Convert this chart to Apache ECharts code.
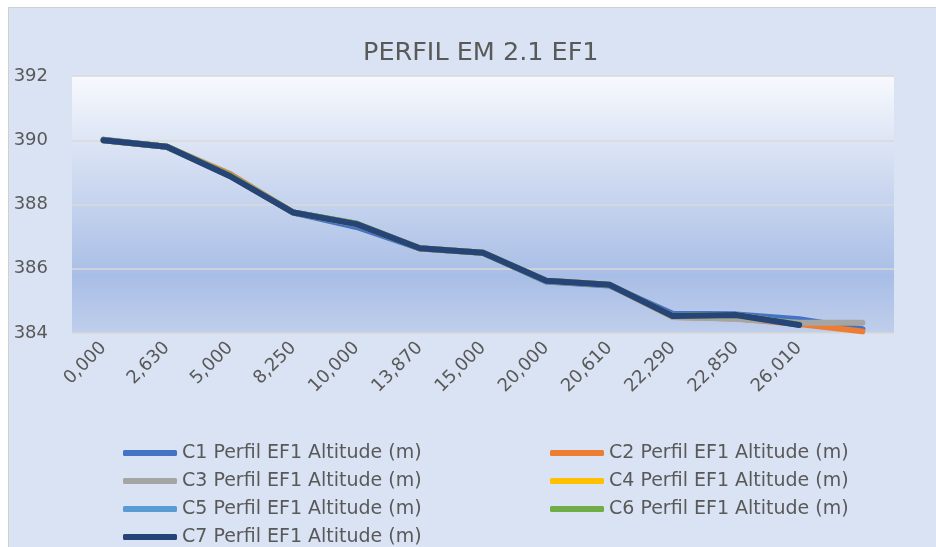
<!DOCTYPE html>
<html>
<head>
<meta charset="utf-8">
<script src="https://cdn.jsdelivr.net/npm/echarts@6/dist/echarts.min.js"></script>
<style>
html,body{margin:0;padding:0;background:#fff;}
#chart{width:936px;height:547px;}
</style>
</head>
<body>
<div id="chart"></div>
<script>
const categories = ['0,000','2,630','5,000','8,250','10,000','13,870','15,000','20,000','20,610','22,290','22,850','26,010',''];
const seriesNames = ['C1 Perfil EF1 Altitude (m)','C2 Perfil EF1 Altitude (m)','C3 Perfil EF1 Altitude (m)','C4 Perfil EF1 Altitude (m)','C5 Perfil EF1 Altitude (m)','C6 Perfil EF1 Altitude (m)','C7 Perfil EF1 Altitude (m)'];
const c1 = [390.02, 389.8, 388.9, 387.75, 387.3, 386.63, 386.5, 385.6, 385.48, 384.6, 384.58, 384.43, 384.12];
const c2 = [390.0, 389.8, 388.95, 387.75, 387.4, 386.64, 386.5, 385.63, 385.5, 384.5, 384.45, 384.28, 384.05];
const c3 = [390.0, 389.8, 388.9, 387.75, 387.38, 386.64, 386.5, 385.62, 385.5, 384.5, 384.44, 384.32, 384.32];
const c4 = [390.0, 389.8, 388.9, 387.75, 387.4, 386.64, 386.5, 385.63, 385.5, 384.53, 384.56, 384.26, null];
const c5 = [390.0, 389.8, 388.9, 387.75, 387.4, 386.64, 386.5, 385.63, 385.5, 384.53, 384.56, 384.26, null];
const c6 = [390.0, 389.8, 388.9, 387.75, 387.4, 386.64, 386.5, 385.63, 385.5, 384.53, 384.56, 384.26, null];
const c7 = [390.0, 389.8, 388.88, 387.75, 387.39, 386.64, 386.5, 385.63, 385.5, 384.53, 384.56, 384.25, null];
const yTicks = {min: 384, max: 392, interval: 2};
const colors = ['#4472C4','#ED7D31','#A5A5A5','#FFC000','#5B9BD5','#70AD47','#264478'];

const allData = [c1,c2,c3,c4,c5,c6,c7];
const FONT = 'DejaVu Sans';
const chart = echarts.init(document.getElementById('chart'), null, {renderer:'canvas'});
const legendStyle = {
  orient: 'vertical', top: 443, height: 110, padding: 0, itemWidth: 54, itemHeight: 6, itemGap: 8, icon: 'roundRect',
  textStyle: {fontFamily: FONT, fontSize: 19, lineHeight: 20, color: '#595959'}
};
chart.setOption({
  animation: false,
  backgroundColor: '#FFFFFF',
  color: colors,
  graphic: [{
    type: 'rect', z: -10, silent: true,
    shape: {x: 8.5, y: 7.5, width: 940, height: 560},
    style: {fill: '#DAE3F3', stroke: '#D0D0D0', lineWidth: 1}
  }],
  title: {
    text: 'PERFIL EM 2.1 EF1', left: 358, top: 35,
    textStyle: {fontFamily: FONT, fontSize: 25.5, fontWeight: 'normal', color: '#595959'}
  },
  legend: [
    Object.assign({left: 123, data: [seriesNames[0], seriesNames[2], seriesNames[4], seriesNames[6]]}, legendStyle),
    Object.assign({left: 550, data: [seriesNames[1], seriesNames[3], seriesNames[5]]}, legendStyle)
  ],
  grid: {
    left: 72, right: 42, top: 76, bottom: 214, show: true, borderWidth: 0,
    backgroundColor: {
      type: 'linear', x: 0, y: 0, x2: 0, y2: 1,
      colorStops: [
        {offset: 0, color: '#F7F9FD'},
        {offset: 0.45, color: '#C9D6EF'},
        {offset: 0.78, color: '#A9BEE6'},
        {offset: 1, color: '#BFCEEB'}
      ]
    }
  },
  xAxis: {
    type: 'category', data: categories, boundaryGap: true,
    axisLine: {show: false}, axisTick: {show: false},
    axisLabel: {rotate: 45, interval: 0, margin: 12, fontFamily: FONT, fontSize: 18, color: '#595959'}
  },
  yAxis: {
    type: 'value', min: yTicks.min, max: yTicks.max, interval: yTicks.interval,
    axisLine: {show: false}, axisTick: {show: false},
    axisLabel: {margin: 24, fontFamily: FONT, fontSize: 18, color: '#595959'},
    splitLine: {lineStyle: {color: '#D9D9D9', width: 1.5}}
  },
  series: seriesNames.map((n, i) => ({
    name: n, type: 'line', data: allData[i], symbol: 'none', showSymbol: false,
    lineStyle: {width: 6, cap: 'round', join: 'round', color: colors[i]},
    itemStyle: {color: colors[i]}, z: 2 + i
  }))
});
</script>
</body>
</html>
